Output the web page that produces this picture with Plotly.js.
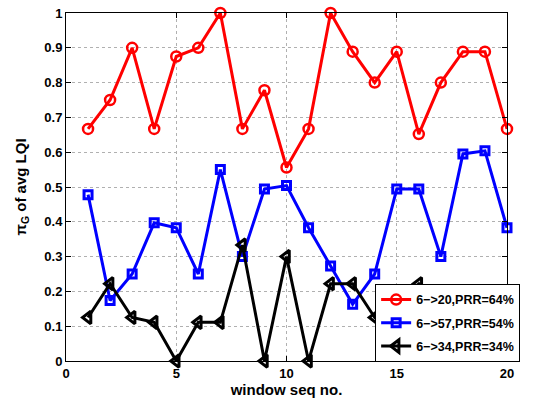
<!DOCTYPE html>
<html>
<head>
<meta charset="utf-8">
<script src="https://cdn.plot.ly/plotly-3.0.1.min.js"></script>
<style>html,body{margin:0;padding:0;background:#fff;}#chart{width:537px;height:401px;}</style>
</head>
<body>
<div id="chart"></div>
<script>
const windowSeq = [1,2,3,4,5,6,7,8,9,10,11,12,13,14,15,16,17,18,19,20];
const link20 = [0.667,0.75,0.9,0.667,0.875,0.9,1.0,0.667,0.778,0.556,0.667,1.0,0.889,0.8,0.889,0.652,0.8,0.889,0.889,0.667];
const link57 = [0.478,0.174,0.25,0.397,0.383,0.25,0.55,0.3,0.494,0.504,0.383,0.273,0.163,0.25,0.494,0.494,0.3,0.595,0.604,0.383];
const link34 = [0.125,0.222,0.125,0.111,0,0.111,0.111,0.333,0,0.3,0,0.222,0.222,0.125,0.167,0.222,0.111,0.125,0.1,0.111];
const seriesNames = ['6−>20,PRR=64%','6−>57,PRR=54%','6−>34,PRR=34%'];
const xTicks = [0,5,10,15,20];
const yTicks = [0,0.1,0.2,0.3,0.4,0.5,0.6,0.7,0.8,0.9,1];

const font = {family:'"Liberation Sans", Arial, sans-serif', color:'#000'};
const traces = [
  {x:windowSeq, y:link20, name:seriesNames[0], legendgroup:'a', mode:'lines+markers', cliponaxis:false,
   line:{color:'#ff0000', width:3}, marker:{symbol:'circle-open', size:10, color:'#ff0000', line:{width:2.5}}},
  {x:windowSeq, y:link57, name:seriesNames[1], legendgroup:'b', mode:'lines+markers', cliponaxis:false,
   line:{color:'#0000ff', width:3}, marker:{symbol:'square-open', size:8, color:'#0000ff', line:{width:3}}},
  {x:windowSeq, y:link34, name:seriesNames[2], legendgroup:'c', mode:'lines+markers', cliponaxis:false,
   line:{color:'#000000', width:3}, marker:{symbol:'triangle-left-open', size:11, color:'#000000', line:{width:3}}}
];
const axisCommon = {
  showline:true, linecolor:'#000', linewidth:1, mirror:'ticks',
  ticks:'inside', ticklen:5, tickcolor:'#000', tickwidth:1,
  showgrid:true, gridcolor:'#b0b0b0', griddash:'dot', gridwidth:1,
  zeroline:false, tickfont:Object.assign({size:13, weight:'bold'}, font)
};
const layout = {
  width:537, height:401,
  margin:{l:66, r:30, t:13, b:40},
  paper_bgcolor:'#fff', plot_bgcolor:'#fff',
  showlegend:true,
  legend:{x:0.701, y:0.2213, xanchor:'left', yanchor:'top', bgcolor:'#fff', bordercolor:'#000', borderwidth:1,
          font:Object.assign({size:12.5, weight:'bold'}, font), tracegroupgap:4, traceorder:'grouped'},
  xaxis:Object.assign({}, axisCommon, {range:[0,20], tickvals:xTicks, ticktext:xTicks.map(String),
          title:{text:'window seq no.', font:Object.assign({size:15, weight:'bold'}, font), standoff:2}}),
  yaxis:Object.assign({}, axisCommon, {range:[0,1], tickvals:yTicks, ticktext:yTicks.map(String),
          title:{text:'π<sub>G</sub> of avg LQI', font:Object.assign({size:15, weight:'bold'}, font), standoff:14}})
};
Plotly.newPlot('chart', traces, layout, {displayModeBar:false, staticPlot:true});
</script>
</body>
</html>
